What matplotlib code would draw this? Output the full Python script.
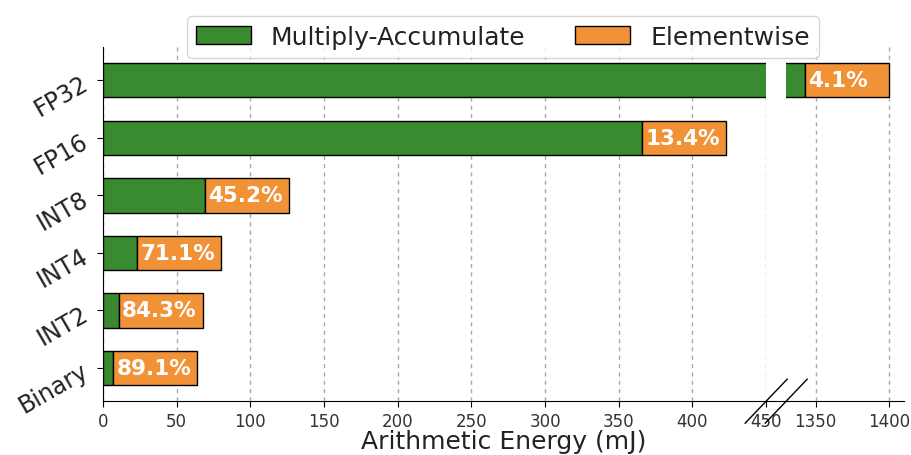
import matplotlib.pyplot as plt
import numpy as np

# data (mJ)
formats = ['Binary', 'INT2', 'INT4', 'INT8', 'FP16', 'FP32']
mac = [6.9, 10.6, 23.1, 69.0, 366.0, 1342.6]
elementwise = [56.8, 57.0, 56.9, 57.0, 56.6, 57.4]
pct_labels = ['89.1%', '84.3%', '71.1%', '45.2%', '13.4%', '4.1%']

left_ticks = [0, 50, 100, 150, 200, 250, 300, 350, 400, 450]
right_ticks = [1350, 1400]

green = '#3a8a2f'
orange = '#f29236'

fig = plt.figure(figsize=(9.11, 4.56), dpi=100)
ax1 = fig.add_axes([0.113, 0.118, 0.728, 0.777])
ax2 = fig.add_axes([0.863, 0.118, 0.1294, 0.777])

y = np.arange(len(formats))
for ax in (ax1, ax2):
    ax.barh(y, mac, height=0.6, color=green, edgecolor='black', linewidth=1,
            label='Multiply-Accumulate', zorder=3)
    ax.barh(y, elementwise, left=mac, height=0.6, color=orange, edgecolor='black',
            linewidth=1, label='Elementwise', zorder=3)
    ax.set_ylim(-0.58, len(formats) - 0.42)
    ax.grid(axis='x', linestyle=(0, (3, 3)), color='#aaaaaa', linewidth=1, zorder=0)
    ax.spines['top'].set_visible(False)
    ax.spines['right'].set_visible(False)
    ax.tick_params(axis='x', labelsize=12, length=4, labelcolor='#333333')

ax1.set_xlim(0, 450)
ax1.set_xticks(left_ticks)
ax1.set_yticks(y)
ax1.set_yticklabels(formats, rotation=30, fontsize=17, color='#222222')
ax1.tick_params(axis='y', length=4)

ax2.set_xlim(1330, 1410)
ax2.set_xticks(right_ticks)
ax2.set_yticks([])
ax2.spines['left'].set_visible(False)

# percentage labels inside the elementwise part
for yi, m, lab in zip(y, mac, pct_labels):
    ax = ax2 if m > 450 else ax1
    ax.text(m + 2.5, yi, lab, ha='left', va='center', color='white',
            fontsize=15.5, fontweight='bold', zorder=4)

# axis break marks
p1 = ax1.get_position()
p2 = ax2.get_position()
dx, dy = 21 / 911, 22 / 456
for xb in (p1.x1, p2.x0):
    fig.add_artist(plt.Line2D([xb - dx, xb + dx], [p1.y0 - dy, p1.y0 + dy],
                              color='black', linewidth=1))
fig.add_artist(plt.Line2D([p1.x1, p2.x0], [p1.y0, p1.y0], color='black', linewidth=0.8))

fig.text((p1.x0 + p2.x1) / 2, 0.005, 'Arithmetic Energy (mJ)', ha='center', va='bottom',
         fontsize=18, color='#222222')

handles, labels = ax1.get_legend_handles_labels()
leg = fig.legend(handles, labels, loc='upper center', bbox_to_anchor=(0.552, 0.99), ncol=2,
                 fontsize=18, handlelength=2.2, columnspacing=2.0, borderpad=0.35)
for t in leg.get_texts():
    t.set_color('#222222')

plt.savefig('out.png', facecolor='white')
plt.close()
